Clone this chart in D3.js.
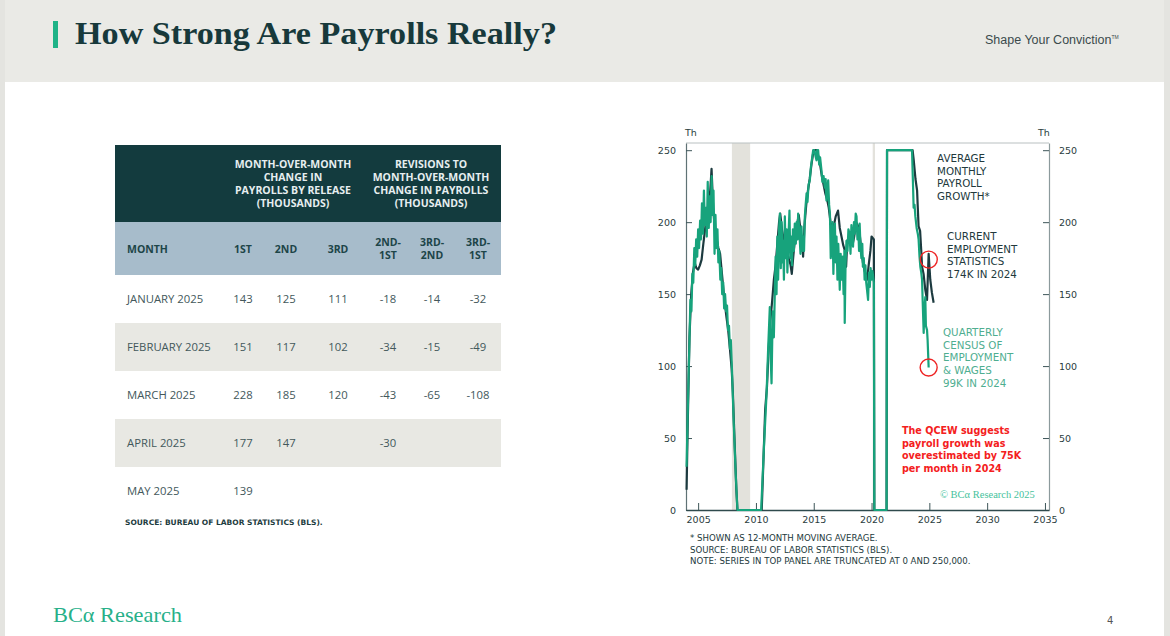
<!DOCTYPE html>
<html lang="en">
<head>
    <meta charset="UTF-8">
    <title>How Strong Are Payrolls Really?</title>
    <script src="https://d3js.org/d3.v7.min.js"></script>
    <style>
        body {
            margin: 0;
            background-color: #ffffff;
            overflow: hidden;
        }
        svg text {
            font-family: "DejaVu Sans", sans-serif;
        }
        .tbl text {
            font-family: "Open Sans", "Roboto", sans-serif;
        }
    </style>
</head>
<body>
    <div id="page"></div>

    <script>
        // ---- table data ----
        const months = ["JANUARY 2025", "FEBRUARY 2025", "MARCH 2025", "APRIL 2025", "MAY 2025"];
        const release1 = [143, 151, 228, 177, 139];
        const release2 = [125, 117, 185, 147, null];
        const release3 = [111, 102, 120, null, null];
        const rev2nd1st = [-18, -34, -43, -30, null];
        const rev3rd2nd = [-14, -15, -65, null, null];
        const rev3rd1st = [-32, -49, -108, null, null];
        const colHeads = [["1ST"], ["2ND"], ["3RD"], ["2ND-", "1ST"], ["3RD-", "2ND"], ["3RD-", "1ST"]];
        const groupHeads = [
            ["MONTH-OVER-MONTH", "CHANGE IN", "PAYROLLS BY RELEASE", "(THOUSANDS)"],
            ["REVISIONS TO", "MONTH-OVER-MONTH", "CHANGE IN PAYROLLS", "(THOUSANDS)"]
        ];

        // ---- chart data (12-month MA, thousands, truncated at 0 and 250) ----
        const yTicks = [0, 50, 100, 150, 200, 250];
        const xTicks = [2005, 2010, 2015, 2020, 2025, 2030, 2035];
        const recessions = [[2007.92, 2009.5], [2020.1, 2020.3]];

        const cesSeries = [
            [2004.0,14],[2004.1,60],[2004.25,120],[2004.4,150],[2004.55,165],[2004.7,172],[2004.85,168],
            [2005.0,167],[2005.15,170],[2005.3,174],[2005.45,185],[2005.6,195],[2005.75,205],[2005.9,212],
            [2006.05,222],[2006.16,237],[2006.3,210],[2006.45,195],[2006.6,188],[2006.75,182],[2006.9,178],
            [2007.05,165],[2007.2,152],[2007.3,144],[2007.45,134],[2007.6,125],[2007.75,112],[2007.9,98],
            [2008.0,82],[2008.15,48],[2008.3,15],[2008.4,0],[2010.5,0],[2010.65,35],[2010.8,70],[2010.95,85],
            [2011.1,112],[2011.25,132],[2011.4,145],[2011.55,160],[2011.7,170],[2011.85,185],[2012.0,200],
            [2012.1,206],[2012.25,195],[2012.4,188],[2012.55,182],[2012.7,178],[2012.85,175],[2013.0,170],
            [2013.1,164],[2013.25,178],[2013.4,190],[2013.55,198],[2013.7,205],[2013.85,195],[2014.0,185],
            [2014.08,176],[2014.2,198],[2014.35,212],[2014.5,222],[2014.65,230],[2014.8,240],[2014.95,248],
            [2015.1,250],[2015.25,250],[2015.4,246],[2015.55,240],[2015.7,232],[2015.85,226],[2016.0,220],
            [2016.15,216],[2016.3,210],[2016.45,200],[2016.6,195],[2016.75,198],[2016.9,204],[2017.1,208],
            [2017.25,196],[2017.4,190],[2017.55,184],[2017.7,180],[2017.8,169],[2017.9,187],[2018.05,190],
            [2018.2,186],[2018.35,184],[2018.5,190],[2018.65,200],[2018.8,198],[2018.97,192],[2019.1,182],
            [2019.25,172],[2019.4,166],[2019.5,164],[2019.62,160],[2019.75,170],[2019.9,180],[2020.0,190],
            [2020.2,188],[2020.24,0],[2021.3,0],[2021.34,250],[2023.55,250],[2023.65,243],[2023.8,230],
            [2023.94,222],[2024.0,210],[2024.07,197],[2024.2,194],[2024.3,180],[2024.37,169],[2024.5,164],
            [2024.65,153],[2024.8,146],[2024.94,178],[2025.08,160],[2025.22,151],[2025.37,144]
        ];

        const qcewSeries = [
            [2004.0,30],[2004.12,75],[2004.25,118],[2004.33,146],[2004.42,138],[2004.5,164],[2004.58,158],
            [2004.67,182],[2004.75,170],[2004.83,188],[2004.92,176],[2005.0,195],[2005.08,182],[2005.17,201],
            [2005.25,188],[2005.33,213],[2005.42,192],[2005.5,222],[2005.58,198],[2005.67,210],[2005.75,190],
            [2005.83,228],[2005.92,196],[2006.0,218],[2006.08,200],[2006.17,232],[2006.25,205],[2006.33,222],
            [2006.42,178],[2006.5,205],[2006.58,182],[2006.67,195],[2006.75,172],[2006.83,180],[2006.92,160],
            [2007.0,168],[2007.08,150],[2007.17,158],[2007.25,140],[2007.33,150],[2007.42,138],[2007.5,142],
            [2007.58,125],[2007.67,128],[2007.75,112],[2007.83,118],[2007.92,99],[2008.08,60],[2008.25,25],
            [2008.4,0],[2010.45,0],[2010.7,45],[2010.92,81],[2011.06,113],[2011.2,141],[2011.28,105],
            [2011.35,88],[2011.45,138],[2011.55,120],[2011.63,150],[2011.7,176],[2011.78,150],[2011.85,190],
            [2011.92,160],[2012.0,195],[2012.07,206],[2012.15,168],[2012.22,200],[2012.3,172],[2012.35,187],
            [2012.42,160],[2012.5,204],[2012.58,175],[2012.65,195],[2012.72,165],[2012.8,187],[2012.9,208],
            [2012.97,175],[2013.05,190],[2013.12,170],[2013.2,195],[2013.28,180],[2013.36,199],[2013.45,185],
            [2013.52,200],[2013.6,188],[2013.65,206],[2013.75,195],[2013.85,178],[2013.94,197],[2014.02,180],
            [2014.1,190],[2014.16,180],[2014.23,204],[2014.3,212],[2014.38,220],[2014.46,214],[2014.55,226],
            [2014.66,229],[2014.75,238],[2014.85,244],[2014.95,250],[2015.05,250],[2015.15,246],[2015.24,243],
            [2015.3,250],[2015.38,250],[2015.47,240],[2015.55,245],[2015.67,236],[2015.75,228],[2015.85,232],
            [2015.96,224],[2016.03,230],[2016.1,215],[2016.18,222],[2016.25,229],[2016.33,212],[2016.4,206],
            [2016.47,175],[2016.54,181],[2016.62,200],[2016.7,164],[2016.77,190],[2016.83,199],[2016.9,172],
            [2016.97,190],[2017.05,160],[2017.12,185],[2017.2,168],[2017.25,153],[2017.33,178],[2017.42,160],
            [2017.5,176],[2017.58,150],[2017.65,180],[2017.68,130],[2017.75,170],[2017.83,187],[2017.92,180],
            [2018.0,195],[2018.1,192],[2018.18,178],[2018.26,198],[2018.33,188],[2018.4,183],[2018.48,200],
            [2018.55,192],[2018.63,206],[2018.7,204],[2018.78,188],[2018.85,196],[2018.92,180],[2018.97,199],
            [2019.05,182],[2019.12,175],[2019.2,185],[2019.25,169],[2019.33,175],[2019.4,160],[2019.47,170],
            [2019.54,158],[2019.62,152],[2019.7,146],[2019.78,165],[2019.85,155],[2019.92,168],[2020.0,160],
            [2020.08,166],[2020.2,158],[2020.24,0],[2021.3,0],[2021.34,250],[2023.5,250],[2023.58,228],
            [2023.64,210],[2023.72,212],[2023.79,204],[2023.9,196],[2024.0,192],[2024.07,188],[2024.15,176],
            [2024.22,169],[2024.3,165],[2024.37,160],[2024.42,146],[2024.51,123],[2024.56,138],[2024.65,148],
            [2024.7,128],[2024.8,125],[2024.85,118],[2024.94,99]
        ];

        // highlighted 2024 readings
        const callouts = [[2024.95, 174], [2024.94, 99]];

        // ---- page ----
        const W = 1170, H = 636;
        const svg = d3.select("#page").append("svg")
            .attr("width", W)
            .attr("height", H);

        // page frame + header band
        svg.append("rect").attr("width", W).attr("height", H).attr("fill", "#ffffff");
        svg.append("rect").attr("width", W).attr("height", 82).attr("fill", "#eaeae6");
        svg.append("rect").attr("x", 0).attr("width", 5).attr("height", H).attr("fill", "#e4e4e0");
        svg.append("rect").attr("x", W - 6).attr("width", 6).attr("height", H).attr("fill", "#e4e4e0");

        svg.append("rect")
            .attr("x", 53).attr("y", 21).attr("width", 5).attr("height", 27)
            .attr("fill", "#1fb387");
        svg.append("text")
            .attr("x", 75).attr("y", 44)
            .attr("textLength", 482)
            .attr("lengthAdjust", "spacingAndGlyphs")
            .style("font-family", "'Liberation Serif', serif")
            .style("font-weight", "bold")
            .style("font-size", "32px")
            .attr("fill", "#17393b")
            .text("How Strong Are Payrolls Really?");
        svg.append("text")
            .attr("x", 985).attr("y", 44)
            .style("font-family", "'Liberation Sans Narrow', 'Liberation Sans', sans-serif")
            .style("font-size", "12.5px")
            .attr("fill", "#3b4a4c")
            .text("Shape Your Conviction")
            .append("tspan")
            .attr("dy", -5)
            .style("font-size", "5px")
            .text("TM");

        // footer
        svg.append("text")
            .attr("x", 53).attr("y", 622)
            .attr("textLength", 129)
            .attr("lengthAdjust", "spacingAndGlyphs")
            .style("font-family", "'Liberation Serif', serif")
            .style("font-size", "21px")
            .attr("fill", "#27b089")
            .text("BCα Research");
        svg.append("text")
            .attr("x", 1107).attr("y", 624)
            .style("font-size", "10px")
            .attr("fill", "#555")
            .text("4");

        // ---- table ----
        const tbl = svg.append("g").attr("class", "tbl");
        const tblX = 115, tblW = 386;
        const colX = [243, 286, 338, 388, 432, 478];
        const rowY0 = 275, rowH = 48;

        tbl.append("rect").attr("x", tblX).attr("y", 145).attr("width", tblW).attr("height", 77).attr("fill", "#133b3e");
        tbl.append("rect").attr("x", tblX).attr("y", 222).attr("width", tblW).attr("height", 53).attr("fill", "#a7bccb");

        const groupX = [293, 431];
        groupHeads.forEach((lines, g) => {
            lines.forEach((ln, i) => {
                tbl.append("text")
                    .attr("x", groupX[g]).attr("y", 168 + i * 13)
                    .attr("text-anchor", "middle")
                    .style("font-size", "10.5px").style("font-weight", "bold")
                    .attr("fill", "#e6eef0")
                    .text(ln);
            });
        });

        tbl.append("text")
            .attr("x", 127).attr("y", 253)
            .style("font-size", "10.5px").style("font-weight", "bold")
            .attr("fill", "#1d4548")
            .text("MONTH");
        colHeads.forEach((lines, c) => {
            lines.forEach((ln, i) => {
                tbl.append("text")
                    .attr("x", colX[c])
                    .attr("y", (lines.length === 1 ? 253 : 246) + i * 13)
                    .attr("text-anchor", "middle")
                    .style("font-size", "10.5px").style("font-weight", "bold")
                    .attr("fill", "#1d4548")
                    .text(ln);
            });
        });

        const columns = [release1, release2, release3, rev2nd1st, rev3rd2nd, rev3rd1st];
        months.forEach((m, r) => {
            const y = rowY0 + r * rowH;
            if (r % 2 === 1) {
                tbl.append("rect").attr("x", tblX).attr("y", y).attr("width", tblW).attr("height", rowH).attr("fill", "#e8e8e3");
            }
            tbl.append("text")
                .attr("x", 127).attr("y", y + 28)
                .style("font-size", "11.3px")
                .attr("fill", "#43585b")
                .text(m);
            columns.forEach((col, c) => {
                if (col[r] === null) return;
                tbl.append("text")
                    .attr("x", colX[c]).attr("y", y + 28)
                    .attr("text-anchor", "middle")
                    .style("font-size", "11.3px")
                    .attr("fill", "#43585b")
                    .text(col[r]);
            });
        });

        svg.append("text")
            .attr("x", 125).attr("y", 525)
            .style("font-size", "7.5px").style("font-weight", "bold")
            .attr("fill", "#1d3c40")
            .text("SOURCE: BUREAU OF LABOR STATISTICS (BLS).");

        // ---- chart ----
        const x = d3.scaleLinear().domain([2003.95, 2035.35]).range([686, 1049]);
        const y = d3.scaleLinear().domain([0, 255]).range([510, 143]);
        const chart = svg.append("g");

        // recession shading
        chart.selectAll("rect.rec")
            .data(recessions)
            .join("rect")
            .attr("class", "rec")
            .attr("x", d => x(d[0]))
            .attr("y", y(255))
            .attr("width", d => x(d[1]) - x(d[0]))
            .attr("height", y(0) - y(255))
            .attr("fill", "#e3e2dc");

        // frame: top line
        chart.append("line")
            .attr("x1", x.range()[0]).attr("x2", x.range()[1])
            .attr("y1", y(255)).attr("y2", y(255))
            .attr("stroke", "#b9c0c1").attr("stroke-width", 1);

        const axisStyle = g => {
            g.selectAll("text")
                .style("font-family", "'DejaVu Sans', sans-serif")
                .style("font-size", "9.5px")
                .attr("fill", "#2a3d40");
            g.selectAll("line").attr("stroke", "#3e5659");
            g.select(".domain").attr("stroke", "#5f7275").attr("stroke-width", 1.2);
        };

        chart.append("g")
            .attr("transform", `translate(${x.range()[0]},0)`)
            .call(d3.axisLeft(y).tickValues(yTicks).tickSize(-6).tickPadding(10).tickSizeOuter(0))
            .call(axisStyle);

        chart.append("g")
            .attr("transform", `translate(${x.range()[1]},0)`)
            .call(d3.axisRight(y).tickValues(yTicks).tickSize(-6).tickPadding(10).tickSizeOuter(0))
            .call(axisStyle)
            .call(g => g.select(".domain").attr("stroke", "#8c9a9c"));

        chart.append("g")
            .attr("transform", `translate(0,${y(0)})`)
            .call(d3.axisBottom(x).tickValues(xTicks).tickFormat(d3.format("d")).tickSize(-7).tickPadding(6).tickSizeOuter(0))
            .call(axisStyle)
            .call(g => g.select(".domain").attr("stroke", "#2f4a4d").attr("stroke-width", 1.5));

        chart.append("text").attr("x", 685).attr("y", 136)
            .style("font-size", "9.5px").attr("fill", "#2a3d40").text("Th");
        chart.append("text").attr("x", 1038).attr("y", 136)
            .style("font-size", "9.5px").attr("fill", "#2a3d40").text("Th");

        const line = d3.line()
            .x(d => x(d[0]))
            .y(d => y(d[1]));

        chart.append("path")
            .datum(cesSeries)
            .attr("d", line)
            .attr("fill", "none")
            .attr("stroke", "#1c3a3f")
            .attr("stroke-width", 2.2)
            .attr("stroke-linejoin", "round");

        chart.append("path")
            .datum(qcewSeries)
            .attr("d", line)
            .attr("fill", "none")
            .attr("stroke", "#17a37c")
            .attr("stroke-width", 2.2)
            .attr("stroke-linejoin", "round");

        chart.selectAll("circle.callout")
            .data(callouts)
            .join("circle")
            .attr("class", "callout")
            .attr("cx", d => x(d[0]))
            .attr("cy", d => y(d[1]))
            .attr("r", 8.5)
            .attr("fill", "none")
            .attr("stroke", "#ee2424")
            .attr("stroke-width", 1.4);

        // annotations
        const note = (lines, x0, y0, color, size, weight, lh) => {
            lines.forEach((ln, i) => {
                chart.append("text")
                    .attr("x", x0).attr("y", y0 + i * (lh || 12.7))
                    .style("font-size", size)
                    .style("font-weight", weight || "normal")
                    .attr("fill", color)
                    .text(ln);
            });
        };
        note(["AVERAGE", "MONTHLY", "PAYROLL", "GROWTH*"], 937, 162, "#22393c", "10.3px");
        note(["CURRENT", "EMPLOYMENT", "STATISTICS", "174K IN 2024"], 947, 240, "#22393c", "10.3px");
        note(["QUARTERLY", "CENSUS OF", "EMPLOYMENT", "& WAGES", "99K IN 2024"], 943, 336, "#4fae90", "10.3px");
        note(["The QCEW suggests", "payroll growth was", "overestimated by 75K", "per month in 2024"], 902, 434, "#f42020", "9.6px", "bold");

        chart.append("text")
            .attr("x", 940).attr("y", 498)
            .style("font-family", "'Liberation Serif', serif")
            .style("font-size", "10.5px")
            .attr("fill", "#46c29c")
            .text("© BCα Research 2025");

        note(["* SHOWN AS 12-MONTH MOVING AVERAGE.",
              "SOURCE: BUREAU OF LABOR STATISTICS (BLS).",
              "NOTE: SERIES IN TOP PANEL ARE TRUNCATED AT 0 AND 250,000."], 690, 541, "#22393c", "8.6px", "normal", 11.5);
    </script>
</body>
</html>
